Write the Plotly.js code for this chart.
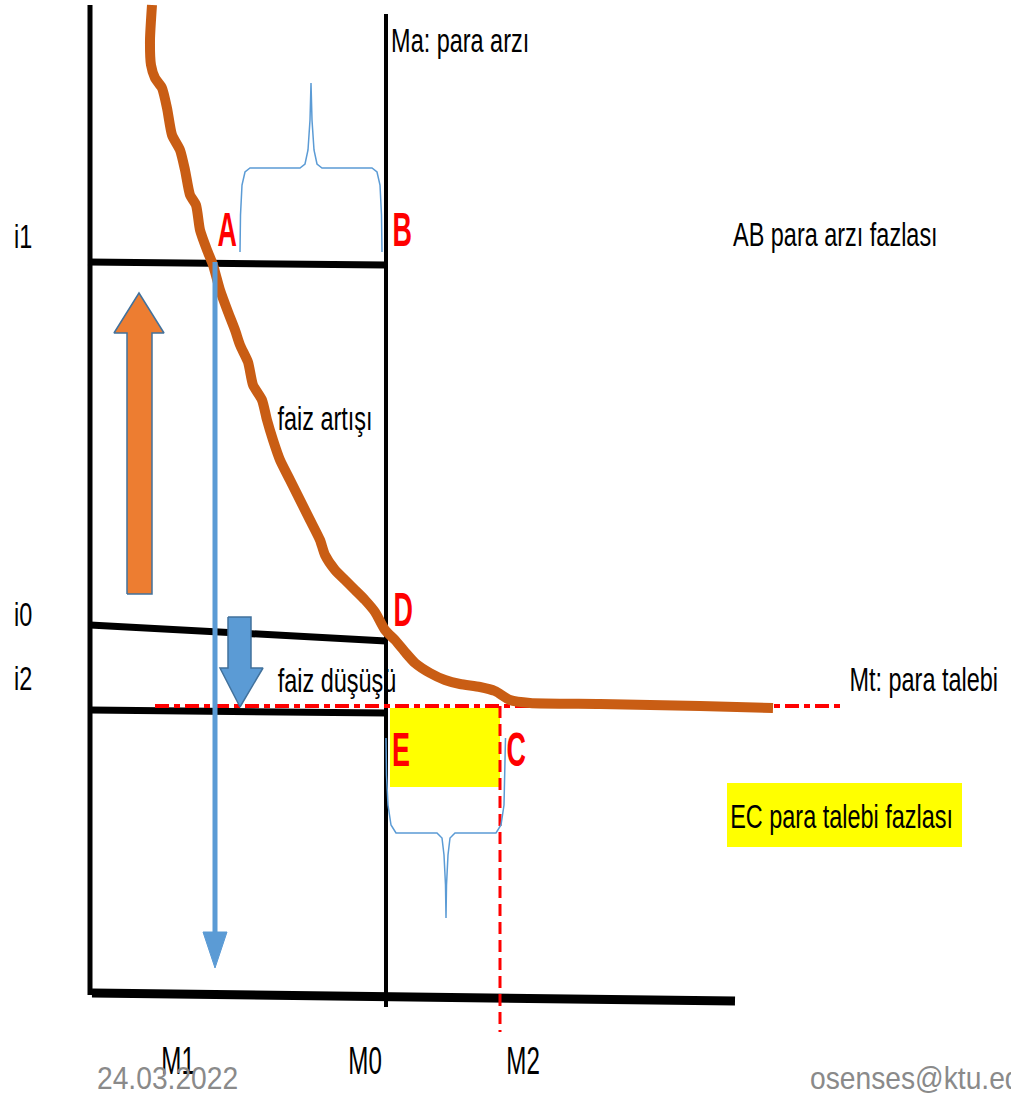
<!DOCTYPE html>
<html>
<head>
<meta charset="utf-8">
<script src="https://cdn.plot.ly/plotly-3.0.1.min.js"></script>
<style>html,body{margin:0;padding:0;background:#fff;}#chart{width:1011px;height:1093px;}
.annotation-text{transform-box:fill-box;transform-origin:center;}</style>
</head>
<body>
<div id="chart"></div>
<script>
// ---- Diagram data (plot units = reference pixel grid) ----
const demandX = [152,150,151,155,162,167,172,180,185,190,196,200,207,213,220,228,235,240,248,253,262,267,273,280,290,300,310,320,325,335,345,355,365,375,385,395,405,415,430,445,460,480,495,510,530,600,700,773];
const demandY = [5,40,65,78,88,108,135,150,170,195,205,230,250,265,290,312,330,345,362,385,400,420,440,460,480,500,520,540,555,570,580,590,600,612,630,640,652,663,673,680,684,687,691,700,703,704,706,708];

const leftAxisX = [90,90];   const leftAxisY = [5,995];
const maX = [386,386];       const maY = [14,1007];
const i1X = [88,386];        const i1Y = [262,265];
const i0X = [90,386];        const i0Y = [625,641];
const i2X = [90,386];        const i2Y = [710,713];
const bottomX = [92,735];    const bottomY = [993,1001];

const redHX = [155,845];     const redHY = [706,706];
const redVX = [500,500];     const redVY = [706,1032];

const ecBoxX = [390,500,500,390,390];
const ecBoxY = [708,708,787,787,708];
const ecLabelBoxX = [727,962,962,727,727];
const ecLabelBoxY = [783,783,847,847,783];

const blueLineX = [215,215]; const blueLineY = [262,935];
const blueHeadX = [203,227,215,203]; const blueHeadY = [932,932,968,932];

const upArrowX = [127,152,152,164,139,114,127,127];
const upArrowY = [594,594,333,333,293,333,333,594];
const downArrowX = [228,251,251,263,240,220,228,228];
const downArrowY = [617,617,668,668,707,668,668,617];

const braceTopX = [240,240.5,242,245,250,300,305,308,310,311,312,314,317,322,372,377,380,381.5,382];
const braceTopY = [252,215,185,172,168,168,164,150,120,83,120,150,164,168,168,172,185,215,252];
const braceBotX = [386,386.5,388,391,396,437,442,444,445.5,446,446.5,448,450,455,496,501,504,505,505.5];
const braceBotY = [738,775,805,825,833,833,838,855,885,918,885,855,838,833,833,825,805,775,738];

// text labels: text, centre position
const labelText = ["Ma: para arzı","i1","i0","i2","AB para arzı fazlası","faiz artışı","faiz düşüşü","Mt: para talebi","EC para talebi fazlası"];
const labelX    = [460, 23, 23, 23, 835, 325, 337, 923, 841];
const labelY    = [40, 236, 614, 678, 234, 418, 680, 679, 816];
const axisText  = ["M1","M0","M2"];
const axisX     = [178, 365, 523];
const axisY     = [1060, 1060, 1060];
const footText  = ["24.03.2022","osenses@ktu.edu.tr"];
const footX     = [167, 808];
const footY     = [1078, 1078];
const pointText = ["A","B","D","E","C"];
const pointX    = [227, 402, 403, 401, 516];
const pointY    = [229, 229, 609, 749, 749];

// ---- Traces ----
const FONT = "Liberation Sans, Arial, sans-serif";
const black = (x,y,w) => ({x, y, mode:"lines", line:{color:"#000", width:w}, hoverinfo:"skip"});
const traces = [
  {x:ecBoxX, y:ecBoxY, mode:"lines", fill:"toself", fillcolor:"#ffff00", line:{width:0}, hoverinfo:"skip"},
  {x:ecLabelBoxX, y:ecLabelBoxY, mode:"lines", fill:"toself", fillcolor:"#ffff00", line:{width:0}, hoverinfo:"skip"},
  black(leftAxisX, leftAxisY, 5),
  black(maX, maY, 4),
  black(i1X, i1Y, 7),
  black(i0X, i0Y, 7),
  black(i2X, i2Y, 7),
  black(bottomX, bottomY, 9),
  {x:redHX, y:redHY, mode:"lines", line:{color:"#ff0000", width:4, dash:"14px,5px,6px,5px"}, hoverinfo:"skip"},
  {x:redVX, y:redVY, mode:"lines", line:{color:"#ff0000", width:3, dash:"12px,6px"}, hoverinfo:"skip"},
  {x:braceTopX, y:braceTopY, mode:"lines", line:{color:"#5b9bd5", width:1.5}, hoverinfo:"skip"},
  {x:braceBotX, y:braceBotY, mode:"lines", line:{color:"#5b9bd5", width:1.5}, hoverinfo:"skip"},
  {x:demandX, y:demandY, mode:"lines", line:{color:"#c95d14", width:10, shape:"spline", smoothing:0.6}, hoverinfo:"skip"},
  {x:blueLineX, y:blueLineY, mode:"lines", line:{color:"#5b9bd5", width:5}, hoverinfo:"skip"},
  {x:blueHeadX, y:blueHeadY, mode:"lines", fill:"toself", fillcolor:"#5b9bd5", line:{color:"#5b9bd5", width:1}, hoverinfo:"skip"},
  {x:upArrowX, y:upArrowY, mode:"lines", fill:"toself", fillcolor:"#ed7d31", line:{color:"#41719c", width:1.5}, hoverinfo:"skip"},
  {x:downArrowX, y:downArrowY, mode:"lines", fill:"toself", fillcolor:"#5b9bd5", line:{color:"#41719c", width:1.5}, hoverinfo:"skip"}
];

const annotations = [];
const squeeze = [];
const ann = (text, x, y, size, color, sx) => {
  annotations.push({text, x, y, xref:"x", yref:"y", xanchor:"center", yanchor:"middle",
    showarrow:false, font:{family:FONT, size, color}});
  squeeze.push(sx);
};
labelText.forEach((t,i) => ann(t, labelX[i], labelY[i], 34, "#000", 0.69));
axisText.forEach((t,i) => ann(t, axisX[i], axisY[i], 39, "#000", 0.62));
footText.forEach((t,i) => ann(t, footX[i], footY[i], 31, "#8a8a8a", 0.91));
pointText.forEach((t,i) => ann("<b>"+t+"</b>", pointX[i], pointY[i], 48, "#ff0000", 0.56));
// osenses is left-anchored (runs off the right edge as in the reference)
annotations[labelText.length + axisText.length + 1].xanchor = "left";

const layout = {
  width:1011, height:1093,
  margin:{l:0, r:0, t:0, b:0},
  paper_bgcolor:"#fff", plot_bgcolor:"#fff",
  showlegend:false,
  xaxis:{range:[0,1011], visible:false, fixedrange:true},
  yaxis:{range:[1093,0], visible:false, fixedrange:true},
  annotations
};
Plotly.newPlot("chart", traces, layout, {staticPlot:true, displayModeBar:false}).then(gd => {
  gd.querySelectorAll("g.annotation").forEach(g => {
    const i = +g.getAttribute("data-index");
    const txt = g.querySelector("text.annotation-text");
    if (!txt || isNaN(i)) return;
    const sx = squeeze[i];
    if (annotations[i].xanchor === "left") txt.style.transformOrigin = "left center";
    txt.style.transform = "scaleX(" + sx + ")";
  });
});
</script>
</body>
</html>
